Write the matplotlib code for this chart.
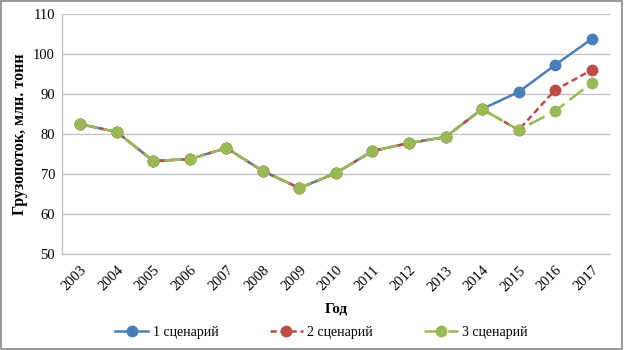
import matplotlib
matplotlib.use("Agg")
import matplotlib.pyplot as plt
from matplotlib.patches import Rectangle

years = [str(y) for y in range(2003, 2018)]
s1 = [82.5, 80.5, 73.25, 73.75, 76.5, 70.75, 66.5, 70.25, 75.75, 77.75, 79.25, 86.25, 90.5, 97.25, 103.75]
s2 = [82.5, 80.5, 73.25, 73.75, 76.5, 70.75, 66.5, 70.25, 75.75, 77.75, 79.25, 86.25, 81.0, 91.0, 96.0]
s3 = [82.5, 80.5, 73.25, 73.75, 76.5, 70.75, 66.5, 70.25, 75.75, 77.75, 79.25, 86.25, 81.0, 85.75, 92.75]
labels = ["1 сценарий", "2 сценарий", "3 сценарий"]

plt.rcParams['font.family'] = ['Liberation Serif', 'DejaVu Serif']

fig = plt.figure(figsize=(6.24, 3.5), dpi=100)
ax = fig.add_axes([0.0994, 0.274, 0.878, 0.686])

x = list(range(len(years)))
ax.plot(x, s1, color='#4a7ebb', lw=1.8, marker='o', ms=7.5, label=labels[0], zorder=3)
ax.plot(x, s2, color='#be4b48', lw=1.8, marker='o', ms=7.5, dashes=(2.5, 1.5), label=labels[1], zorder=4)
ax.plot(x, s3, color='#98b954', lw=1.8, marker='o', ms=7.5, dashes=(7, 2.5), label=labels[2], zorder=5)

ax.set_xlim(-0.5, len(years) - 0.5)
ax.set_ylim(50, 110)
ax.set_yticks(range(50, 111, 10))
ax.set_xticks(x)
ax.set_xticklabels(years, rotation=45, ha='right', rotation_mode='anchor')
ax.tick_params(axis='y', labelsize=10.5, length=0, pad=5)
ax.tick_params(axis='x', labelsize=10.5, length=0, pad=7)
ax.grid(axis='y', color='#c0c0c0', lw=0.9)
ax.set_axisbelow(True)
for s in ['top', 'right']:
    ax.spines[s].set_visible(False)
ax.spines['left'].set_color('#c0c0c0')
ax.spines['bottom'].set_color('#c0c0c0')
ax.spines['left'].set_linewidth(0.9)
ax.spines['bottom'].set_linewidth(0.9)

ax.set_ylabel("Грузопоток, млн. тонн", fontsize=11.5, fontweight='bold', labelpad=4)
ax.set_xlabel("Год", fontsize=11, fontweight='bold', labelpad=6)

leg = fig.legend(loc='lower center', bbox_to_anchor=(0.515, -0.005), ncol=3, frameon=False,
                 fontsize=10, handlelength=2.4, columnspacing=3.7, handletextpad=0.3)

fig.patches.append(Rectangle((0.002, 0.003), 0.995, 0.993, transform=fig.transFigure,
                             fill=False, edgecolor='#888888', lw=1.2))

fig.savefig("out.png", dpi=100)
